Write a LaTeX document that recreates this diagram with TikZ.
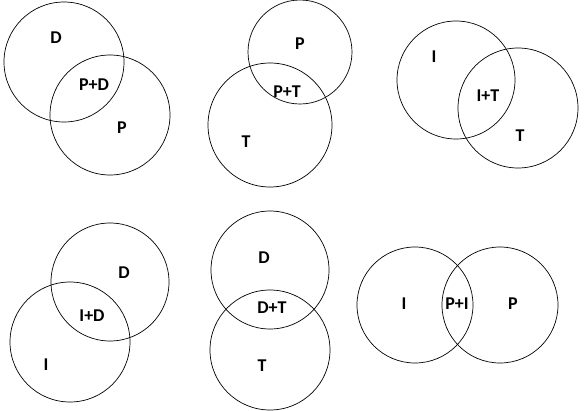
\documentclass[tikz,border=0pt]{standalone}
\usepackage{fontspec}
\setmainfont{Carlito}
\begin{document}
\begin{tikzpicture}[x=1pt,y=-1pt,c/.style={draw=black,line width=0.7pt},l/.style={font=\bfseries\fontsize{18}{18}\selectfont}]
\useasboundingbox (0,0) rectangle (584,410);
% 1
\draw[c] (64,62) circle (60); \draw[c] (110,115) circle (60);
\node[l] (a1) at (56,38) {D}; \node[l] (a2) at (94,85) {P+D}; \node[l] (a3) at (122,128) {P};
% 2
\draw[c] (300,52) circle (52); \draw[c] (270,125) circle (62);
\node[l] (b1) at (300,44) {P}; \node[l] (b2) at (287,92) {P+T}; \node[l] (b3) at (246,142) {T};
% 3
\draw[c] (456,80) circle (59); \draw[c] (518,108) circle (60);
\node[l] (c1) at (434,57) {I}; \node[l] (c2) at (488,96) {I+T}; \node[l] (c3) at (520,136) {T};
% 4
\draw[c] (110,282) circle (59); \draw[c] (70,342) circle (60);
\node[l] (d1) at (124,273) {D}; \node[l] (d2) at (92,316) {I+D}; \node[l] (d3) at (46,365) {I};
% 5
\draw[c] (270,270) circle (59); \draw[c] (270,350) circle (60);
\node[l] (e1) at (264,258) {D}; \node[l] (e2) at (272,308) {D+T}; \node[l] (e3) at (262,366) {T};
% 6
\draw[c] (415,305) circle (58); \draw[c] (500,305) circle (58);
\node[l] (f1) at (404,304) {I}; \node[l] (f2) at (457,304) {P+I}; \node[l] (f3) at (513,304) {P};
\end{tikzpicture}
\end{document}
